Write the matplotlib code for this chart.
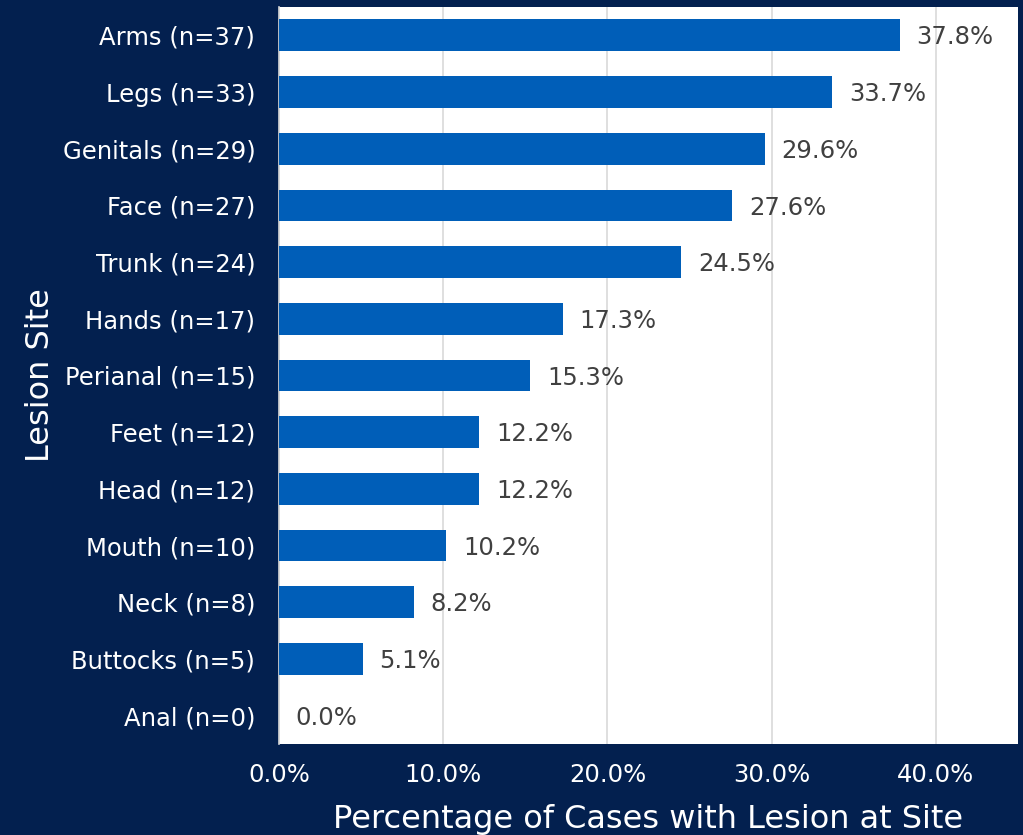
import matplotlib.pyplot as plt

sites = ['Arms', 'Legs', 'Genitals', 'Face', 'Trunk', 'Hands', 'Perianal',
         'Feet', 'Head', 'Mouth', 'Neck', 'Buttocks', 'Anal']
counts = [37, 33, 29, 27, 24, 17, 15, 12, 12, 10, 8, 5, 0]
percent = [37.8, 33.7, 29.6, 27.6, 24.5, 17.3, 15.3, 12.2, 12.2, 10.2, 8.2, 5.1, 0.0]
xticks = [0, 10, 20, 30, 40]

navy = '#03204F'
blue = '#005EB8'

plt.rcParams['font.family'] = ['DejaVu Sans']

fig = plt.figure(figsize=(10.23, 8.35), dpi=100, facecolor=navy)
ax = fig.add_axes([0.2727, 0.109, 0.7224, 0.8826])
ax.set_facecolor('white')

labels = [f'{s} (n={n})' for s, n in zip(sites, counts)]
ypos = list(range(len(sites)))
ax.barh(ypos, percent, height=0.56, color=blue, zorder=3)

for y, p in zip(ypos, percent):
    ax.annotate(f'{p:.1f}%', (p, y), xytext=(12, -1.5), textcoords='offset points',
                va='center', ha='left', fontsize=17.5, color='#404040', zorder=4)

ax.set_xlim(0, 45)
ax.set_ylim(len(sites) - 0.5, -0.5)
ax.set_yticks(ypos)
ax.set_yticklabels(labels, fontsize=17.5, color='white')
ax.set_xticks(xticks)
ax.set_xticklabels([f'{t:.1f}%' for t in xticks], fontsize=17.5, color='white')
ax.tick_params(axis='both', length=0)
ax.tick_params(axis='x', pad=14)
ax.tick_params(axis='y', pad=17)

ax.grid(axis='x', color='#D9D9D9', linewidth=1.2, zorder=0)
for side in ['top', 'right', 'bottom']:
    ax.spines[side].set_visible(False)
ax.spines['left'].set_color('#D9D9D9')
ax.spines['left'].set_linewidth(1.2)

ax.set_xlabel('Percentage of Cases with Lesion at Site', fontsize=23, color='white', labelpad=12)
ax.set_ylabel('Lesion Site', fontsize=23, color='white', labelpad=5)

fig.savefig('out.png', dpi=100, facecolor=navy)
